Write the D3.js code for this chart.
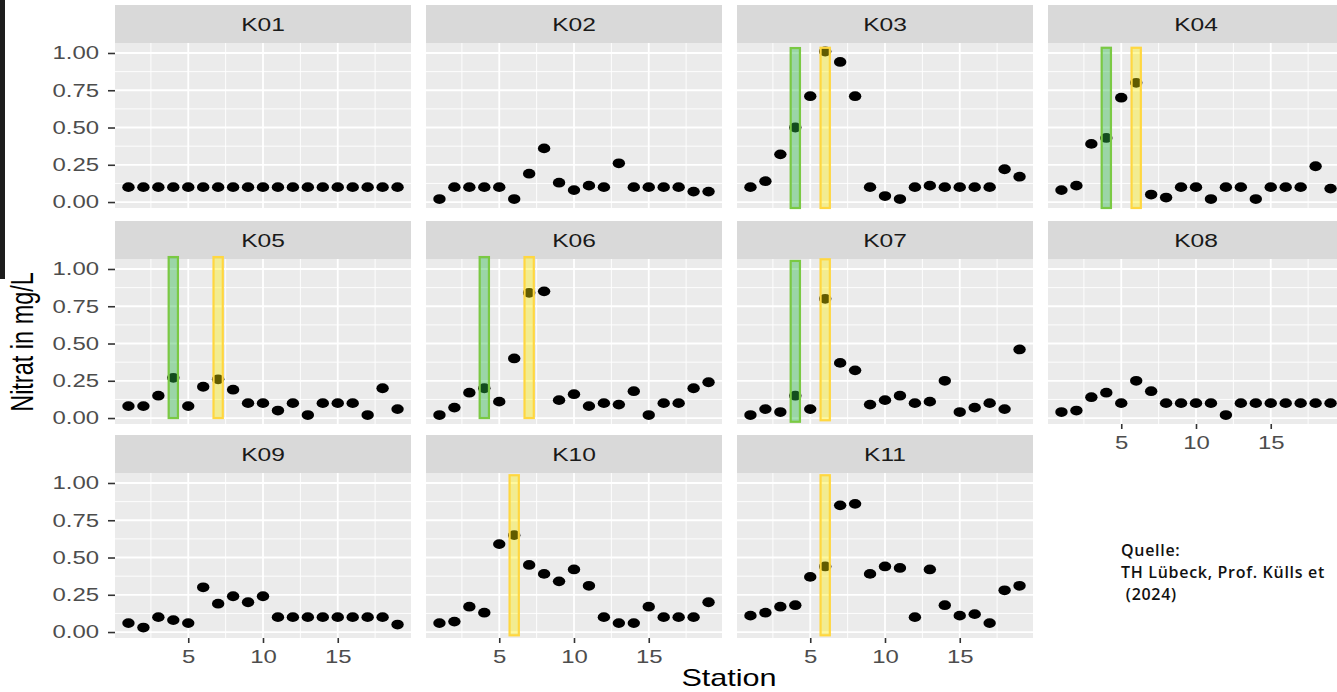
<!DOCTYPE html>
<html>
<head>
<meta charset="utf-8">
<script src="https://cdn.jsdelivr.net/npm/d3@7"></script>
<style>
  body { margin: 0; background: #fff; }
  svg { display: block; font-family: "Liberation Sans", Arial, sans-serif; }
</style>
</head>
<body>
<div id="chart"></div>
<script>
// stations along the x axis
var STATIONS = [1, 2, 3, 4, 5, 6, 7, 8, 9, 10, 11, 12, 13, 14, 15, 16, 17, 18, 19];
var PANELS = ["K01", "K02", "K03", "K04", "K05", "K06", "K07", "K08", "K09", "K10", "K11"];

// nitrate in mg/L, one value per station
var K01 = [0.10, 0.10, 0.10, 0.10, 0.10, 0.10, 0.10, 0.10, 0.10, 0.10, 0.10, 0.10, 0.10, 0.10, 0.10, 0.10, 0.10, 0.10, 0.10];
var K02 = [0.02, 0.10, 0.10, 0.10, 0.10, 0.02, 0.19, 0.36, 0.13, 0.08, 0.11, 0.10, 0.26, 0.10, 0.10, 0.10, 0.10, 0.07, 0.07];
var K03 = [0.10, 0.14, 0.32, 0.50, 0.71, 1.01, 0.94, 0.71, 0.10, 0.04, 0.02, 0.10, 0.11, 0.10, 0.10, 0.10, 0.10, 0.22, 0.17];
var K04 = [0.08, 0.11, 0.39, 0.43, 0.70, 0.80, 0.05, 0.03, 0.10, 0.10, 0.02, 0.10, 0.10, 0.02, 0.10, 0.10, 0.10, 0.24, 0.09];
var K05 = [0.08, 0.08, 0.15, 0.27, 0.08, 0.21, 0.26, 0.19, 0.10, 0.10, 0.05, 0.10, 0.02, 0.10, 0.10, 0.10, 0.02, 0.20, 0.06];
var K06 = [0.02, 0.07, 0.17, 0.20, 0.11, 0.40, 0.84, 0.85, 0.12, 0.16, 0.08, 0.10, 0.09, 0.18, 0.02, 0.10, 0.10, 0.20, 0.24];
var K07 = [0.02, 0.06, 0.04, 0.15, 0.06, 0.80, 0.37, 0.32, 0.09, 0.12, 0.15, 0.10, 0.11, 0.25, 0.04, 0.07, 0.10, 0.06, 0.46];
var K08 = [0.04, 0.05, 0.14, 0.17, 0.10, 0.25, 0.18, 0.10, 0.10, 0.10, 0.10, 0.02, 0.10, 0.10, 0.10, 0.10, 0.10, 0.10, 0.10];
var K09 = [0.06, 0.03, 0.10, 0.08, 0.06, 0.30, 0.19, 0.24, 0.20, 0.24, 0.10, 0.10, 0.10, 0.10, 0.10, 0.10, 0.10, 0.10, 0.05];
var K10 = [0.06, 0.07, 0.17, 0.13, 0.59, 0.65, 0.45, 0.39, 0.34, 0.42, 0.31, 0.10, 0.06, 0.06, 0.17, 0.10, 0.10, 0.10, 0.20];
var K11 = [0.11, 0.13, 0.17, 0.18, 0.37, 0.44, 0.85, 0.86, 0.39, 0.44, 0.43, 0.10, 0.42, 0.18, 0.11, 0.12, 0.06, 0.28, 0.31];
var SERIES = [K01, K02, K03, K04, K05, K06, K07, K08, K09, K10, K11];

// highlighted stations (drawn over the points)
var HL_PANEL = ["K03", "K03", "K04", "K04", "K05", "K05", "K06", "K06", "K07", "K07", "K10", "K11"];
var HL_STATION = [4, 6, 4, 6, 4, 7, 4, 7, 4, 6, 6, 6];
var HL_KIND = ["green", "yellow", "green", "yellow", "green", "yellow", "green", "yellow", "green", "yellow", "yellow", "yellow"];
var HL_YMAX = [1.033, 1.035, 1.035, 1.035, 1.08, 1.08, 1.08, 1.08, 1.054, 1.065, 1.052, 1.052];
var HL_YMIN = [-0.04, -0.04, -0.04, -0.04, 0, 0, 0, 0, -0.025, -0.015, -0.022, -0.022];

var X_TICKS = [5, 10, 15];
var X_MINOR = [2.5, 7.5, 12.5, 17.5];
var Y_TICKS = [0, 0.25, 0.5, 0.75, 1];
var Y_MINOR = [0.125, 0.375, 0.625, 0.875];

var SOURCE_LINES = ["Quelle:", "TH Lübeck, Prof. Külls et", " (2024)"];

var width = 1337, height = 692;
var SX = 1.33; // the picture is stretched sideways

var panelW = 296, plotH = 165, stripH = 38,
    colLeft = 115, colStep = 311,
    rowTops = [43, 259, 473];

var COLORS = {
    green: { fill: "#2eb84a", stroke: "#7ac943" },
    yellow: { fill: "#ffee00", stroke: "#ffd740" }
};

var x = d3.scaleLinear().domain([0.1, 19.9]).range([0, panelW]);
var y = d3.scaleLinear().domain([-0.04, 1.067]).range([plotH, 0]);

var svg = d3.select("#chart").append("svg")
    .attr("width", width)
    .attr("height", height);

svg.append("rect")
    .attr("x", 0).attr("y", 0)
    .attr("width", 5).attr("height", 279)
    .style("fill", "#1d1d1d");

PANELS.forEach(function (name, i) {
    var col = i % 4, row = Math.floor(i / 4);
    var g = svg.append("g")
        .attr("transform", "translate(" + (colLeft + col * colStep) + "," + rowTops[row] + ")");

    // strip
    g.append("rect")
        .attr("x", 0).attr("y", -stripH)
        .attr("width", panelW).attr("height", stripH)
        .style("fill", "#d9d9d9");
    g.append("text")
        .attr("transform", "translate(" + (panelW / 2) + "," + (-stripH / 2) + ") scale(" + SX + ",1)")
        .attr("text-anchor", "middle")
        .attr("dy", "0.36em")
        .style("font-size", "18.5px")
        .style("fill", "#1a1a1a")
        .text(name);

    // panel + grid
    g.append("rect")
        .attr("width", panelW).attr("height", plotH)
        .style("fill", "#ebebeb");

    g.selectAll("line.ymin").data(Y_MINOR).enter().append("line")
        .attr("x1", 0).attr("x2", panelW)
        .attr("y1", y).attr("y2", y)
        .style("stroke", "#fff").style("stroke-width", 0.9);
    g.selectAll("line.xmin").data(X_MINOR).enter().append("line")
        .attr("y1", 0).attr("y2", plotH)
        .attr("x1", x).attr("x2", x)
        .style("stroke", "#fff").style("stroke-width", 0.9);
    g.selectAll("line.ymaj").data(Y_TICKS).enter().append("line")
        .attr("x1", 0).attr("x2", panelW)
        .attr("y1", y).attr("y2", y)
        .style("stroke", "#fff").style("stroke-width", 1.8);
    g.selectAll("line.xmaj").data(X_TICKS).enter().append("line")
        .attr("y1", 0).attr("y2", plotH)
        .attr("x1", x).attr("x2", x)
        .style("stroke", "#fff").style("stroke-width", 1.8);

    // points
    g.selectAll("ellipse").data(SERIES[i]).enter().append("ellipse")
        .attr("cx", function (d, j) { return x(STATIONS[j]); })
        .attr("cy", function (d) { return y(d); })
        .attr("rx", 6.2).attr("ry", 4.9)
        .style("fill", "#000");

    // highlights
    HL_PANEL.forEach(function (p, k) {
        if (p !== name) return;
        var c = COLORS[HL_KIND[k]];
        g.append("rect")
            .attr("x", x(HL_STATION[k] - 0.31))
            .attr("width", x(HL_STATION[k] + 0.31) - x(HL_STATION[k] - 0.31))
            .attr("y", y(HL_YMAX[k]))
            .attr("height", y(HL_YMIN[k]) - y(HL_YMAX[k]))
            .style("fill", c.fill)
            .style("fill-opacity", HL_KIND[k] === "green" ? 0.42 : 0.38)
            .style("stroke", c.stroke)
            .style("stroke-width", 2.2);
    });

    // y axis on the first column
    if (col === 0) {
        var ya = g.append("g")
            .call(d3.axisLeft(y).tickValues(Y_TICKS).tickFormat(d3.format(".2f")).tickSize(7).tickPadding(9));
        ya.select(".domain").remove();
        ya.selectAll(".tick line").style("stroke", "#333").style("stroke-width", 1.6);
        ya.selectAll(".tick text")
            .attr("x", -16 / SX)
            .attr("transform", "scale(" + SX + ",1)")
            .style("font-size", "18px")
            .style("font-family", "Liberation Sans, Arial, sans-serif")
            .style("fill", "#4d4d4d");
    }

    // x axis on the lowest panel of each column
    if (i + 4 >= PANELS.length) {
        var xa = g.append("g")
            .attr("transform", "translate(0," + plotH + ")")
            .call(d3.axisBottom(x).tickValues(X_TICKS).tickSize(5).tickPadding(7));
        xa.select(".domain").remove();
        xa.selectAll(".tick line").style("stroke", "#333").style("stroke-width", 1.6);
        xa.selectAll(".tick text")
            .attr("transform", "scale(" + SX + ",1)")
            .style("font-size", "18px")
            .style("font-family", "Liberation Sans, Arial, sans-serif")
            .style("fill", "#4d4d4d");
    }
});

// axis titles
svg.append("text")
    .attr("transform", "translate(729,686) scale(" + SX + ",1)")
    .attr("text-anchor", "middle")
    .style("font-size", "23px")
    .style("fill", "#000")
    .text("Station");

svg.append("text")
    .attr("transform", "translate(33,342) scale(" + SX + ",1) rotate(-90)")
    .attr("text-anchor", "middle")
    .style("font-size", "23.5px")
    .style("fill", "#000")
    .text("Nitrat in mg/L");

// source note
svg.append("g").selectAll("text").data(SOURCE_LINES).enter().append("text")
    .attr("x", 1121)
    .attr("y", function (d, i) { return 556 + i * 22; })
    .style("font-family", "'Open Sans', 'Noto Sans', sans-serif")
    .style("font-weight", 600)
    .style("font-size", "16px")
    .style("letter-spacing", "0.7px")
    .style("fill", "#111")
    .style("white-space", "pre")
    .text(function (d) { return d; });
</script>
</body>
</html>
